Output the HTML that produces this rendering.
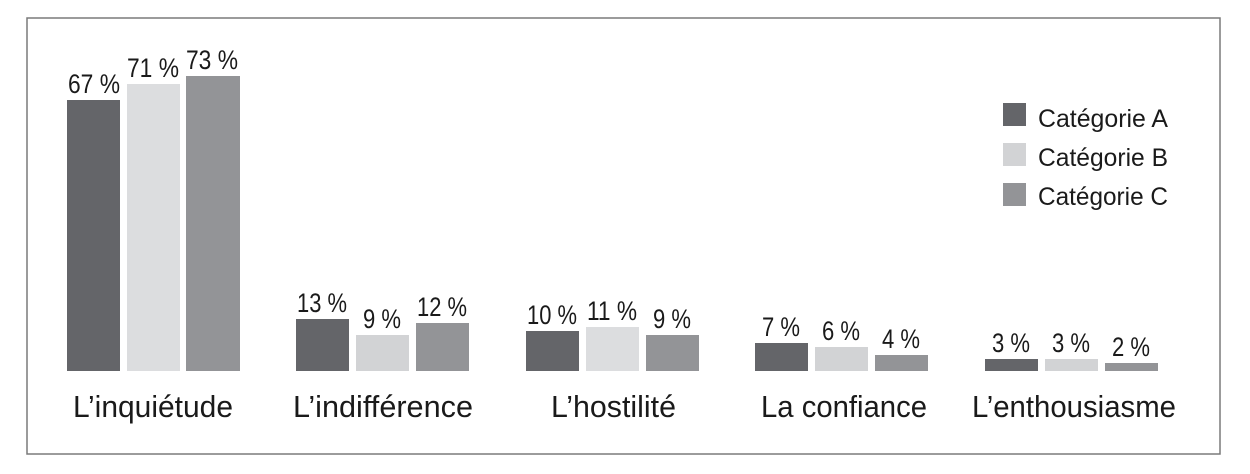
<!DOCTYPE html>
<html><head><meta charset="utf-8"><style>html,body{margin:0;padding:0;background:#fff}svg{display:block}</style></head>
<body>
<svg width="1250" height="474" viewBox="0 0 1250 474" xmlns="http://www.w3.org/2000/svg" font-family="Liberation Sans Narrow, Liberation Sans, sans-serif" fill="#1a1a1a">
<rect x="27" y="18" width="1193" height="436" fill="#fff" stroke="#7a7a7a" stroke-width="1.5"/>
<g>
<rect x="67" y="100" width="53" height="271" fill="#646569"/>
<rect x="127" y="84" width="53" height="287" fill="#dcdddf"/>
<rect x="186" y="76" width="54" height="295" fill="#939497"/>
<rect x="296" y="319" width="53" height="52" fill="#646569"/>
<rect x="356" y="335" width="53" height="36" fill="#d2d3d5"/>
<rect x="416" y="323" width="53" height="48" fill="#939497"/>
<rect x="526" y="331" width="53" height="40" fill="#646569"/>
<rect x="586" y="327" width="53" height="44" fill="#dcdddf"/>
<rect x="646" y="335" width="53" height="36" fill="#939497"/>
<rect x="755" y="343" width="53" height="28" fill="#646569"/>
<rect x="815" y="347" width="53" height="24" fill="#d2d3d5"/>
<rect x="875" y="355" width="53" height="16" fill="#939497"/>
<rect x="985" y="359" width="53" height="12" fill="#646569"/>
<rect x="1045" y="359" width="53" height="12" fill="#d2d3d5"/>
<rect x="1105" y="363" width="53" height="8" fill="#939497"/>
</g>
<g font-size="27" text-anchor="middle">
<text x="94" y="93" textLength="52" lengthAdjust="spacingAndGlyphs">67 %</text>
<text x="153" y="77" textLength="52" lengthAdjust="spacingAndGlyphs">71 %</text>
<text x="212" y="69" textLength="52" lengthAdjust="spacingAndGlyphs">73 %</text>
<text x="322" y="312" textLength="50" lengthAdjust="spacingAndGlyphs">13 %</text>
<text x="382" y="328" textLength="38" lengthAdjust="spacingAndGlyphs">9 %</text>
<text x="442" y="316" textLength="50" lengthAdjust="spacingAndGlyphs">12 %</text>
<text x="552" y="324" textLength="50" lengthAdjust="spacingAndGlyphs">10 %</text>
<text x="612" y="320" textLength="50" lengthAdjust="spacingAndGlyphs">11 %</text>
<text x="672" y="328" textLength="38" lengthAdjust="spacingAndGlyphs">9 %</text>
<text x="781" y="336" textLength="38" lengthAdjust="spacingAndGlyphs">7 %</text>
<text x="841" y="340" textLength="38" lengthAdjust="spacingAndGlyphs">6 %</text>
<text x="901" y="348" textLength="38" lengthAdjust="spacingAndGlyphs">4 %</text>
<text x="1011" y="352" textLength="38" lengthAdjust="spacingAndGlyphs">3 %</text>
<text x="1071" y="352" textLength="38" lengthAdjust="spacingAndGlyphs">3 %</text>
<text x="1131" y="356" textLength="38" lengthAdjust="spacingAndGlyphs">2 %</text>
</g>
<g font-size="31">
<text x="73" y="417" textLength="160" lengthAdjust="spacingAndGlyphs">L’inquiétude</text>
<text x="293" y="417" textLength="180" lengthAdjust="spacingAndGlyphs">L’indifférence</text>
<text x="551" y="417" textLength="125" lengthAdjust="spacingAndGlyphs">L’hostilité</text>
<text x="761" y="417" textLength="166" lengthAdjust="spacingAndGlyphs">La confiance</text>
<text x="972" y="417" textLength="204" lengthAdjust="spacingAndGlyphs">L’enthousiasme</text>
</g>
<rect x="1003" y="103" width="23" height="23" fill="#646569"/>
<rect x="1003" y="143" width="23" height="23" fill="#d2d3d5"/>
<rect x="1003" y="183" width="23" height="23" fill="#939497"/>
<g font-size="25">
<text x="1038" y="127" textLength="130" lengthAdjust="spacingAndGlyphs">Catégorie A</text>
<text x="1038" y="166" textLength="130" lengthAdjust="spacingAndGlyphs">Catégorie B</text>
<text x="1038" y="205" textLength="130" lengthAdjust="spacingAndGlyphs">Catégorie C</text>
</g>
</svg>
</body></html>
